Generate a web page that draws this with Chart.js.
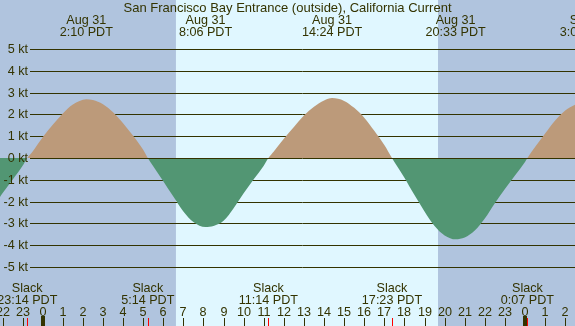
<!DOCTYPE html>
<html>
<head>
<meta charset="utf-8">
<script src="https://cdn.jsdelivr.net/npm/chart.js@4/dist/chart.umd.min.js"></script>
<style>
    html, body { margin: 0; padding: 0; background: #b0c4de; }
    #wrap { width: 575px; height: 326px; position: relative; }
</style>
</head>
<body>
<div id="wrap"><canvas id="tideChart"></canvas></div>
<script>
// hours relative to midnight Aug 31 (PDT), current in knots (+ flood, - ebb)
const tideHours = [
    -2.5, -2.0, -1.5, -1.0, -0.77,
    -0.5, 0, 0.5, 1.0, 1.5, 2.17, 2.5, 3.0, 3.5, 4.0, 4.5, 5.0, 5.23,
    5.5, 6.0, 6.5, 7.0, 7.5, 8.1, 8.5, 9.0, 9.5, 10.0, 10.5, 11.0, 11.23,
    11.5, 12.0, 12.5, 13.0, 13.5, 14.0, 14.4, 15.0, 15.5, 16.0, 16.5, 17.0, 17.38,
    17.5, 18.0, 18.5, 19.0, 19.5, 20.0, 20.55, 21.0, 21.5, 22.0, 22.5, 23.0, 23.5, 24.0, 24.12,
    24.5, 25.0, 25.5, 26.0, 26.5, 27.0
];
const tideKnots = [
    -2.3, -1.62, -1.0, -0.36, 0,
    0.3, 0.95, 1.52, 2.04, 2.45, 2.70, 2.66, 2.47, 2.1, 1.6, 1.02, 0.38, 0,
    -0.38, -1.07, -1.77, -2.45, -2.93, -3.17, -3.12, -2.88, -2.3, -1.62, -0.97, -0.35, 0,
    0.3, 0.88, 1.42, 1.95, 2.35, 2.64, 2.75, 2.62, 2.3, 1.85, 1.25, 0.6, 0,
    -0.18, -0.9, -1.7, -2.45, -3.12, -3.55, -3.73, -3.65, -3.33, -2.78, -2.07, -1.42, -0.8, -0.18, 0,
    0.5, 1.12, 1.72, 2.18, 2.45, 2.65
];

const daylight = [6.63, 19.67];

const maxTimes = [2.17, 8.1, 14.4, 20.55, 27.05];
const maxDates = ['Aug 31', 'Aug 31', 'Aug 31', 'Aug 31', 'Sep 1'];
const maxLabels = ['2:10 PDT', '8:06 PDT', '14:24 PDT', '20:33 PDT', '3:03 PDT'];

const slackTimes = [-0.77, 5.23, 11.23, 17.38, 24.12];
const slackLabels = ['23:14 PDT', '5:14 PDT', '11:14 PDT', '17:23 PDT', '0:07 PDT'];

const hourTicks = [-2, -1, 0, 1, 2, 3, 4, 5, 6, 7, 8, 9, 10, 11, 12, 13, 14, 15, 16, 17, 18, 19, 20, 21, 22, 23, 24, 25, 26];
const hourLabels = ['22', '23', '0', '1', '2', '3', '4', '5', '6', '7', '8', '9', '10', '11', '12', '13', '14', '15', '16', '17', '18', '19', '20', '21', '22', '23', '0', '1', '2'];
const ktTicks = [5, 4, 3, 2, 1, 0, -1, -2, -3, -4, -5];

const title = 'San Francisco Bay Entrance (outside), California Current';

const NIGHT = '#b0c4de';
const DAY = '#e0f7ff';
const FLOOD = '#bc9a7a';
const EBB = '#529673';
const INK = '#333300';
const FONT = '12.6px "Liberation Sans", Arial, sans-serif';
const TITLE_FONT = '13px "Liberation Sans", Arial, sans-serif';

// background bands + gridlines under the fill
const backdropPlugin = {
    id: 'backdrop',
    beforeDatasetsDraw(chart) {
        const { ctx, chartArea, scales } = chart;
        const x = scales.x, y = scales.y;
        ctx.save();
        ctx.fillStyle = NIGHT;
        ctx.fillRect(chartArea.left, chartArea.top, chartArea.width, chartArea.height);
        const d0 = x.getPixelForValue(daylight[0]);
        const d1 = x.getPixelForValue(daylight[1]);
        ctx.fillStyle = DAY;
        ctx.fillRect(d0, chartArea.top, d1 - d0, chartArea.height);

        ctx.strokeStyle = INK;
        ctx.lineWidth = 1;
        ktTicks.forEach(k => {
            if (k === 0) return;
            const py = Math.round(y.getPixelForValue(k)) + 0.5;
            ctx.beginPath();
            ctx.moveTo(30, py);
            ctx.lineTo(chartArea.right, py);
            ctx.stroke();
        });
        ctx.restore();
    }
};

// zero line, labels and time ticks on top
const labelsPlugin = {
    id: 'labels',
    afterDatasetsDraw(chart) {
        const { ctx, chartArea, scales } = chart;
        const x = scales.x, y = scales.y;
        ctx.save();
        ctx.strokeStyle = INK;
        ctx.lineWidth = 1;
        const zy = Math.round(y.getPixelForValue(0)) + 0.5;
        ctx.beginPath();
        ctx.moveTo(30, zy);
        ctx.lineTo(chartArea.right, zy);
        ctx.stroke();

        ctx.font = FONT;
        ctx.fillStyle = INK;
        ctx.textBaseline = 'middle';
        ctx.textAlign = 'right';
        ktTicks.forEach(k => {
            ctx.fillText(k + ' kt', 28, y.getPixelForValue(k) + 0.5);
        });

        ctx.textBaseline = 'alphabetic';
        ctx.textAlign = 'center';
        ctx.font = TITLE_FONT;
        ctx.fillText(title, (chartArea.left + chartArea.right) / 2, 12);
        ctx.font = FONT;
        maxTimes.forEach((t, i) => {
            const px = x.getPixelForValue(t);
            ctx.fillText(maxDates[i], px, 24);
            ctx.fillText(maxLabels[i], px, 35.5);
        });
        slackTimes.forEach((t, i) => {
            const px = x.getPixelForValue(t);
            ctx.fillText('Slack', px, 292);
            ctx.fillText(slackLabels[i], px, 304);
        });

        hourTicks.forEach((h, i) => {
            const px = Math.round(x.getPixelForValue(h));
            ctx.fillText(hourLabels[i], px, 316);
            if (h % 24 === 0) {
                ctx.fillRect(px - 2, 316, 4, chartArea.bottom - 316);
            } else {
                ctx.fillRect(px, 318, 1, chartArea.bottom - 318);
            }
        });
        ctx.fillStyle = '#ff0000';
        slackTimes.forEach(t => {
            const px = Math.round(x.getPixelForValue(t));
            ctx.fillRect(px, 318, 1, chartArea.bottom - 318);
        });
        ctx.restore();
    }
};

const ctx = document.getElementById('tideChart').getContext('2d');
new Chart(ctx, {
    type: 'line',
    data: {
        datasets: [{
            data: tideHours.map((h, i) => ({ x: h, y: tideKnots[i] })),
            borderWidth: 0,
            borderColor: 'rgba(0,0,0,0)',
            pointRadius: 0,
            cubicInterpolationMode: 'monotone',
            fill: { target: 'origin', above: FLOOD, below: EBB }
        }]
    },
    options: {
        responsive: true,
        maintainAspectRatio: false,
        animation: false,
        layout: { padding: 0 },
        plugins: {
            legend: { display: false },
            tooltip: { enabled: false }
        },
        scales: {
            x: { type: 'linear', min: -2.125, max: 26.488, display: false },
            y: { min: -7.706, max: 7.248, display: false }
        }
    },
    plugins: [backdropPlugin, labelsPlugin]
});
</script>
</body>
</html>
